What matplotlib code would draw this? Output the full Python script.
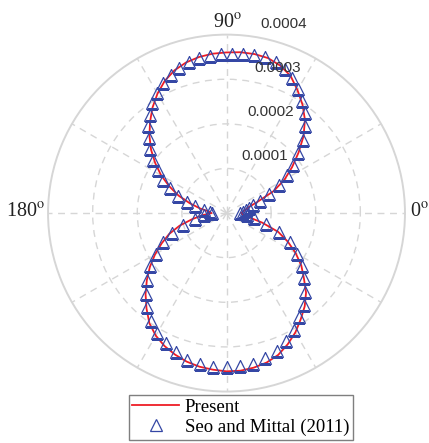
import numpy as np
import matplotlib
matplotlib.use('Agg')
import matplotlib.pyplot as plt
from matplotlib.transforms import offset_copy

plt.rcParams['mathtext.fontset'] = 'stix'

# present result, angle in degrees, amplitude in units of 1e-4
present_deg = [0, 5, 10, 15, 20, 25, 30, 35, 40, 45, 50, 55, 60, 65, 70, 75,
               80, 85, 90, 95, 100, 105, 110, 115, 120, 125, 130, 135, 140,
               145, 150, 155, 160, 165, 170, 175, 180, 185, 190, 195, 200,
               205, 210, 215, 220, 225, 230, 235, 240, 245, 250, 255, 260,
               265, 270, 275, 280, 285, 290, 295, 300, 305, 310, 315, 320,
               325, 330, 335, 340, 345, 350, 355, 360]
present_r = [0.336, 0.370, 0.426, 0.515, 0.740, 1.165, 1.501, 1.793, 2.107,
             2.443, 2.734, 2.969, 3.182, 3.395, 3.518, 3.597, 3.619, 3.619,
             3.601, 3.586, 3.552, 3.496, 3.406, 3.272, 3.093, 2.891, 2.667,
             2.443, 2.207, 1.950, 1.692, 1.412, 1.143, 0.852, 0.605, 0.392,
             0.336, 0.538, 0.778, 1.087, 1.367, 1.602, 1.849, 2.095, 2.331,
             2.566, 2.790, 3.014, 3.171, 3.288, 3.375, 3.447, 3.496, 3.523,
             3.547, 3.547, 3.518, 3.469, 3.384, 3.245, 3.088, 2.902, 2.727,
             2.521, 2.263, 2.046, 1.788, 1.517, 1.233, 0.829, 0.493, 0.359,
             0.336]

# Seo and Mittal (2011)
seo_deg = [0, 4, 8, 12, 16, 20, 24, 28, 32, 36, 40, 44, 48, 52, 56, 60, 64,
           68, 72, 76, 80, 84, 88, 92, 96, 100, 104, 108, 112, 116, 120, 124,
           128, 132, 136, 140, 144, 148, 152, 156, 160, 164, 168, 172, 176,
           180, 185, 190, 195, 200, 205, 210, 215, 220, 225, 230, 235, 240,
           245, 250, 255, 260, 265, 270, 275, 280, 285, 290, 295, 300, 305,
           310, 315, 320, 325, 330, 335, 340, 345, 350, 355]
seo_r = [0.30, 0.38, 0.45, 0.52, 0.62, 0.80, 1.05, 1.33, 1.60, 1.85, 2.10,
         2.37, 2.63, 2.85, 3.04, 3.20, 3.37, 3.49, 3.57, 3.60, 3.60, 3.58,
         3.56, 3.56, 3.55, 3.52, 3.48, 3.43, 3.35, 3.25, 3.12, 2.97, 2.80,
         2.62, 2.43, 2.23, 2.03, 1.82, 1.60, 1.38, 1.15, 0.93, 0.72, 0.52,
         0.38, 0.33, 0.50, 0.72, 1.02, 1.30, 1.56, 1.82, 2.08, 2.33, 2.56,
         2.76, 2.96, 3.10, 3.22, 3.32, 3.40, 3.44, 3.46, 3.46, 3.45, 3.43,
         3.37, 3.30, 3.17, 3.02, 2.84, 2.70, 2.50, 2.28, 2.06, 1.82, 1.56,
         1.25, 0.92, 0.62, 0.45]

r_ticks = [0.0001, 0.0002, 0.0003, 0.0004]
r_labels = ['0.0001', '0.0002', '0.0003', '0.0004']
theta_ticks = [0, 30, 60, 90, 120, 150, 180, 210, 240, 270, 300, 330]
angle_labels = ['0$^{\\rm o}$', '90$^{\\rm o}$', '180$^{\\rm o}$']

fig = plt.figure(figsize=(4.29, 4.43), dpi=100)
ax = fig.add_axes([0.112, 0.116, 0.832, 0.806], projection='polar')

grid_col = '#d6d6d6'
ax.plot(np.deg2rad(present_deg), np.array(present_r) * 1e-4, color='#ee1c25',
        lw=1.3, label='Present', zorder=3)
ax.plot(np.deg2rad(seo_deg), np.array(seo_r) * 1e-4, ls='none', marker='^',
        ms=8.5, mfc='none', mec='#3547a5', mew=0.9,
        label='Seo and Mittal (2011)', zorder=4)

ax.set_ylim(0, 0.0004)
ax.set_yticks(r_ticks[:-1])
ax.set_yticklabels([])
ax.set_thetagrids(theta_ticks, [''] * len(theta_ticks))
ax.grid(True, color=grid_col, linestyle=(0, (5, 4)), linewidth=1.0)
ax.spines['polar'].set_color(grid_col)
ax.spines['polar'].set_linewidth(1.4)

# angle labels just outside the rim
ang_style = dict(family='Liberation Serif', fontsize=14.5, color='#222222')
ax.text(0, 0.0004, angle_labels[0], ha='left', va='center',
        transform=offset_copy(ax.transData, fig=fig, x=5, y=1, units='dots'),
        **ang_style)
ax.text(np.pi / 2, 0.0004, angle_labels[1], ha='center', va='bottom',
        transform=offset_copy(ax.transData, fig=fig, x=1, y=2, units='dots'),
        **ang_style)
ax.text(np.pi, 0.0004, angle_labels[2], ha='right', va='center',
        transform=offset_copy(ax.transData, fig=fig, x=-3, y=1, units='dots'),
        **ang_style)

# radial labels along a line near 81.6 deg
lab_tr = offset_copy(ax.transData, fig=fig, x=8, y=6, units='dots')
for rv, lab in zip(r_ticks, r_labels):
    ax.text(np.deg2rad(81.6), rv, lab, transform=lab_tr, ha='left',
            va='bottom', family='Liberation Sans', fontsize=11,
            color='#333333', zorder=5)

leg = fig.legend(loc='upper center', bbox_to_anchor=(0.5614, 0.1084),
                 bbox_transform=fig.transFigure, fancybox=False,
                 edgecolor='#7f7f7f', framealpha=1,
                 prop={'family': 'Liberation Serif', 'size': 13.5},
                 handlelength=2.5, handletextpad=0.3, labelspacing=0.15,
                 borderpad=0.2, borderaxespad=0)
leg.get_frame().set_linewidth(1.0)

fig.savefig('out.png', dpi=100)
